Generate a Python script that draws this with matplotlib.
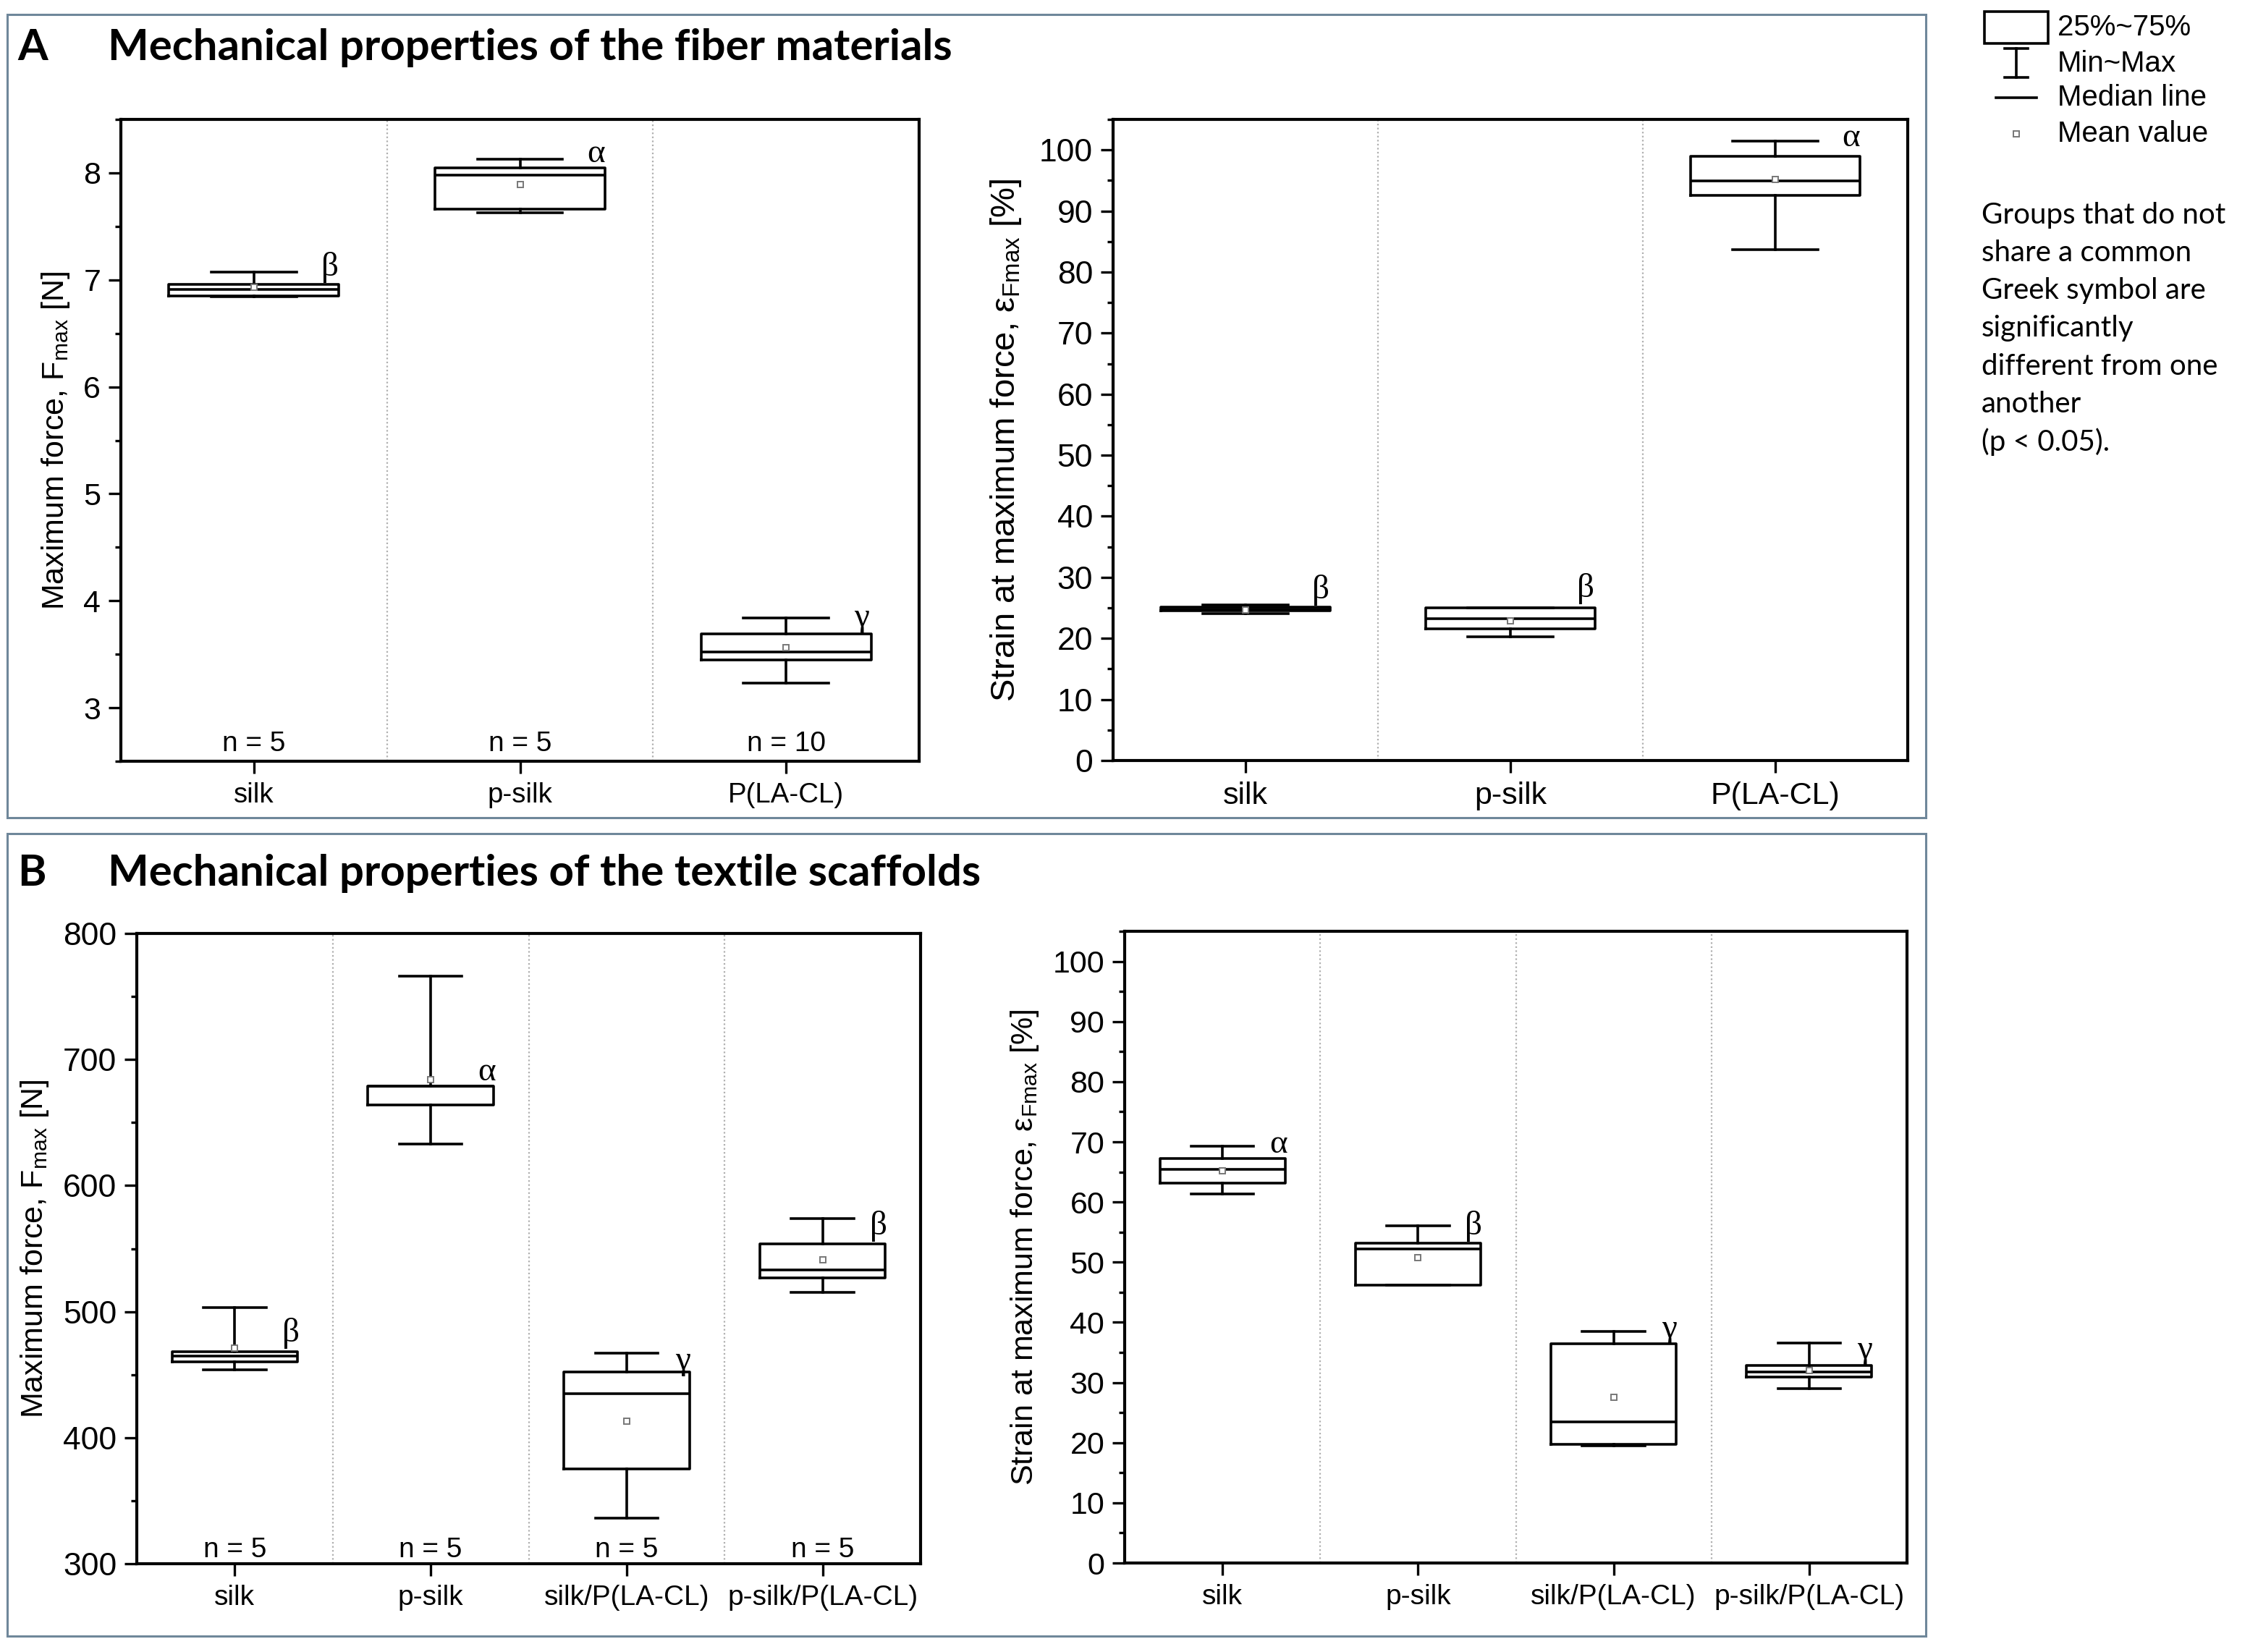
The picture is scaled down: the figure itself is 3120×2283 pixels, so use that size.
import matplotlib
matplotlib.use("Agg")
import matplotlib.pyplot as plt
from matplotlib.patches import Rectangle
from matplotlib.ticker import MultipleLocator

W, H = 3120, 2283
DPI = 200

plt.rcParams['font.family'] = ['Liberation Sans', 'DejaVu Sans']
plt.rcParams['mathtext.default'] = 'regular'

# ---- Panel A: fiber materials ----
fiber_groups = ['silk', 'p-silk', 'P(LA-CL)']
fiber_n = [5, 5, 10]
fiber_letters_force = ['β', 'α', 'γ']
fiber_letters_strain = ['β', 'β', 'α']

fiber_force_min = [6.84, 7.63, 3.23]
fiber_force_q1 = [6.85, 7.66, 3.45]
fiber_force_med = [6.91, 7.98, 3.52]
fiber_force_q3 = [6.96, 8.05, 3.69]
fiber_force_max = [7.07, 8.13, 3.84]
fiber_force_mean = [6.93, 7.89, 3.56]
fiber_force_letter_y = [7.12, 8.18, 3.84]

fiber_strain_min = [24.0, 20.3, 83.7]
fiber_strain_q1 = [24.5, 21.6, 92.5]
fiber_strain_med = [24.8, 23.2, 94.9]
fiber_strain_q3 = [25.1, 25.0, 99.0]
fiber_strain_max = [25.5, 25.0, 101.5]
fiber_strain_mean = [24.7, 22.9, 95.2]
fiber_strain_letter_y = [27.9, 28.2, 102.0]

# ---- Panel B: textile scaffolds ----
scaf_groups = ['silk', 'p-silk', 'silk/P(LA-CL)', 'p-silk/P(LA-CL)']
scaf_n = [5, 5, 5, 5]
scaf_letters_force = ['β', 'α', 'γ', 'β']
scaf_letters_strain = ['α', 'β', 'γ', 'γ']

scaf_force_min = [454, 633, 336, 515]
scaf_force_q1 = [460, 664, 375, 527]
scaf_force_med = [465, 679, 435, 533]
scaf_force_q3 = [468, 679, 452, 554]
scaf_force_max = [503, 766, 467, 574]
scaf_force_mean = [471, 684, 413, 541]
scaf_force_letter_y = [483, 690, 461, 568]

scaf_strain_min = [61.3, 46.2, 19.5, 29.0]
scaf_strain_q1 = [63.2, 46.2, 19.7, 30.9]
scaf_strain_med = [65.4, 52.2, 23.5, 31.8]
scaf_strain_q3 = [67.2, 53.2, 36.5, 32.8]
scaf_strain_max = [69.3, 56.1, 38.5, 36.6]
scaf_strain_mean = [65.2, 50.7, 27.6, 32.0]
scaf_strain_letter_y = [69.5, 56.0, 38.9, 35.4]

legend_labels = ['25%~75%', 'Min~Max', 'Median line', 'Mean value']
note_lines = ['Groups that do not', 'share a common', 'Greek symbol are',
              'significantly', 'different from one', 'another', '(p < 0.05).']

FRAME_COLOR = '#6f879a'


def px_axes(fig, x0, y0, x1, y1):
    # rectangle given in image pixels (top-left origin)
    return fig.add_axes([x0 / W, 1 - y1 / H, (x1 - x0) / W, (y1 - y0) / H])


def box_panel(ax, groups, lo, q1, med, q3, hi, mean, letters, letter_y,
              ylim, major, minor, ylabel, ns=None, n_y=None,
              xtick_fs=14, ytick_fs=15.5, label_fs=15.5, labelpad=6):
    pos = list(range(1, len(groups) + 1))
    stats = []
    for i in range(len(groups)):
        stats.append(dict(whislo=lo[i], q1=q1[i], med=med[i], q3=q3[i],
                          whishi=hi[i], mean=mean[i], fliers=[], label=groups[i]))
    lw = 1.3
    ax.bxp(stats, positions=pos, widths=0.64, capwidths=0.32, showmeans=True,
           showfliers=False,
           boxprops=dict(color='black', linewidth=lw),
           whiskerprops=dict(color='black', linewidth=lw),
           capprops=dict(color='black', linewidth=lw),
           medianprops=dict(color='black', linewidth=lw),
           meanprops=dict(marker='s', markersize=3.2, markerfacecolor='white',
                          markeredgecolor='#777777', markeredgewidth=0.7))
    for k in range(1, len(groups)):
        ax.axvline(k + 0.5, color='#b0b0b0', linestyle=(0, (1, 1.5)), linewidth=0.8, zorder=0)
    for i, p in enumerate(pos):
        ax.text(p + 0.285, letter_y[i], letters[i], family='Liberation Serif',
                fontsize=17, ha='center', va='center')
        if ns is not None:
            ax.text(p, n_y, f'n = {ns[i]}', fontsize=14, ha='center', va='center')
    ax.set_xlim(0.5, len(groups) + 0.5)
    ax.set_ylim(*ylim)
    ax.set_xticks(pos)
    ax.set_xticklabels(groups)
    ax.yaxis.set_major_locator(MultipleLocator(major))
    ax.yaxis.set_minor_locator(MultipleLocator(minor))
    ax.tick_params(axis='both', which='major', direction='out', length=6, width=1.2)
    ax.tick_params(axis='y', which='major', labelsize=ytick_fs, pad=4)
    ax.tick_params(axis='y', which='minor', direction='out', length=3, width=1.2)
    ax.tick_params(axis='x', which='minor', bottom=False)
    ax.tick_params(axis='x', which='major', labelsize=xtick_fs, pad=4.5)
    for s in ax.spines.values():
        s.set_linewidth(1.5)
    ax.set_ylabel(ylabel, fontsize=label_fs, labelpad=labelpad)


fig = plt.figure(figsize=(W / DPI, H / DPI), dpi=DPI)

# overlay in pixel coordinates for frames, titles and the key
ov = fig.add_axes([0, 0, 1, 1])
ov.set_xlim(0, W)
ov.set_ylim(H, 0)
ov.axis('off')

ov.add_patch(Rectangle((10, 20), 2651, 1110, fill=False, ec=FRAME_COLOR, lw=1.1))
ov.add_patch(Rectangle((10, 1152), 2651, 1109, fill=False, ec=FRAME_COLOR, lw=1.1))
title_kw = dict(family=['Lato', 'DejaVu Sans'], fontweight='bold', fontsize=21.6, va='center')
ov.text(24, 66, 'A', **title_kw)
ov.text(149, 66, 'Mechanical properties of the fiber materials', **title_kw)
ov.text(24, 1207, 'B', **title_kw)
ov.text(149, 1207, 'Mechanical properties of the textile scaffolds', **title_kw)

# key
ov.add_patch(Rectangle((2742, 16), 88, 44, fill=False, ec='black', lw=1.3))
ov.plot([2786, 2786], [67, 107], color='black', lw=1.3)
ov.plot([2770, 2802], [67, 67], color='black', lw=1.3)
ov.plot([2770, 2802], [107, 107], color='black', lw=1.3)
ov.plot([2758, 2814], [135, 135], color='black', lw=1.3)
ov.plot([2786], [185], marker='s', markersize=3.2, markerfacecolor='white',
        markeredgecolor='#777777', markeredgewidth=0.7)
for i, lab in enumerate(legend_labels):
    ov.text(2843, [38, 88, 135, 185][i], lab, fontsize=14.5, va='center')
for i, line in enumerate(note_lines):
    ov.text(2738, 297 + 52.3 * i, line, family=['Lato', 'DejaVu Sans'],
            fontsize=14.5, va='center')

force_label = r'Maximum force, F$_{max}$ [N]'
strain_label = r'Strain at maximum force, ε$_{Fmax}$ [%]'

a1 = px_axes(fig, 167, 165, 1270, 1052)
box_panel(a1, fiber_groups, fiber_force_min, fiber_force_q1, fiber_force_med,
          fiber_force_q3, fiber_force_max, fiber_force_mean, fiber_letters_force,
          fiber_force_letter_y, (2.5, 8.5), 1, 0.5, force_label,
          ns=fiber_n, n_y=2.66, xtick_fs=13.8, ytick_fs=15.5)

a2 = px_axes(fig, 1538, 165, 2636, 1051)
box_panel(a2, fiber_groups, fiber_strain_min, fiber_strain_q1, fiber_strain_med,
          fiber_strain_q3, fiber_strain_max, fiber_strain_mean, fiber_letters_strain,
          fiber_strain_letter_y, (0, 105), 10, 5, strain_label,
          xtick_fs=15.5, ytick_fs=16, label_fs=17, labelpad=8)

b1 = px_axes(fig, 189, 1290, 1272, 2161)
box_panel(b1, scaf_groups, scaf_force_min, scaf_force_q1, scaf_force_med,
          scaf_force_q3, scaf_force_max, scaf_force_mean, scaf_letters_force,
          scaf_force_letter_y, (300, 800), 100, 50, force_label,
          ns=scaf_n, n_y=311, xtick_fs=14, ytick_fs=16)

b2 = px_axes(fig, 1554, 1287, 2635, 2160)
box_panel(b2, scaf_groups, scaf_strain_min, scaf_strain_q1, scaf_strain_med,
          scaf_strain_q3, scaf_strain_max, scaf_strain_mean, scaf_letters_strain,
          scaf_strain_letter_y, (0, 105), 10, 5, strain_label,
          xtick_fs=14, ytick_fs=15.5)

fig.savefig('out.png', dpi=DPI)
